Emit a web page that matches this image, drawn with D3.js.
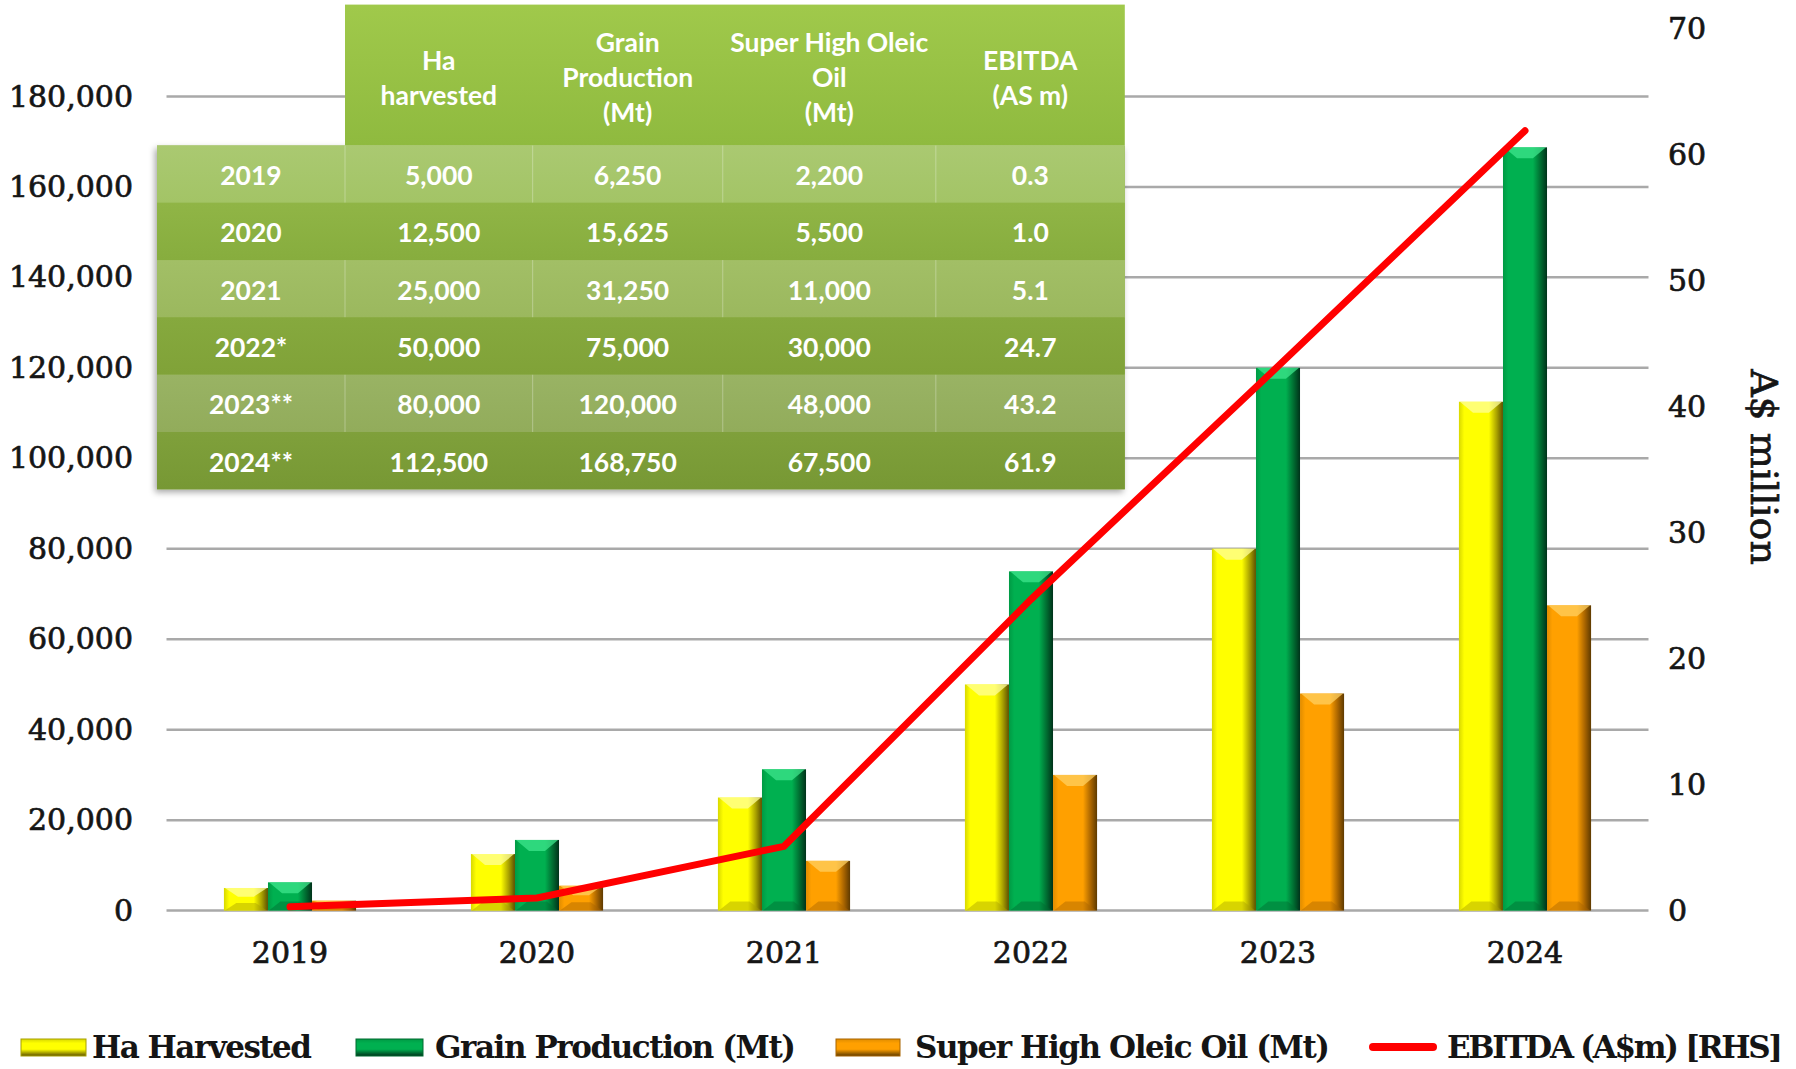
<!DOCTYPE html>
<html>
<head>
<meta charset="utf-8">
<script src="https://cdn.jsdelivr.net/npm/d3@7"></script>
<style>
  body { margin: 0; background: #fff; }
  svg { display: block; }
</style>
</head>
<body>
<div id="chart"></div>
<script>
// Chart data
var years = ["2019", "2020", "2021", "2022", "2023", "2024"];
var tableYears = ["2019", "2020", "2021", "2022*", "2023**", "2024**"];
var haHarvested = [5000, 12500, 25000, 50000, 80000, 112500];
var grainProduction = [6250, 15625, 31250, 75000, 120000, 168750];
var oilProduction = [2200, 5500, 11000, 30000, 48000, 67500];
var ebitda = [0.3, 1.0, 5.1, 24.7, 43.2, 61.9];

var leftTicks = [0, 20000, 40000, 60000, 80000, 100000, 120000, 140000, 160000, 180000];
var rightTicks = [0, 10, 20, 30, 40, 50, 60, 70];

var seriesNames = ["Ha Harvested", "Grain Production (Mt)", "Super High Oleic Oil (Mt)"];
var seriesValues = [haHarvested, grainProduction, oilProduction];
var lineName = "EBITDA (A$m) [RHS]";

var tableHeaders = [[], ["Ha", "harvested"], ["Grain", "Production", "(Mt)"], ["Super High Oleic", "Oil", "(Mt)"], ["EBITDA", "(AS m)"]];

// Layout
var W = 1796, H = 1069;
var PLOT_L = 166.5, PLOT_R = 1648.5, PLOT_T = 28.6, PLOT_B = 910.6;
var AXIS_FONT = "'DejaVu Serif', 'Liberation Serif', serif";
var TABLE_FONT = "Lato, 'Open Sans', sans-serif";

var seriesColors = [
	{main: "#ffff00", left: "#d8d800", edge: "#5c4f00", light: "#ffff9a", dark: "#a8a000"},
	{main: "#00b050", left: "#009a44", edge: "#00321a", light: "#3ee58c", dark: "#006a30"},
	{main: "#ffa000", left: "#e08c00", edge: "#5e3a00", light: "#ffd060", dark: "#a86400"}
];

var svg = d3.select("#chart").append("svg")
	.attr("width", W)
	.attr("height", H);

var defs = svg.append("defs");

// bar gradients (dark right edge, slightly dark left edge)
seriesColors.forEach(function(c, i) {
	var g = defs.append("linearGradient").attr("id", "barGrad" + i)
		.attr("x1", "0%").attr("x2", "100%").attr("y1", "0%").attr("y2", "0%");
	g.append("stop").attr("offset", "0%").attr("stop-color", c.left);
	g.append("stop").attr("offset", "12%").attr("stop-color", c.main);
	g.append("stop").attr("offset", "68%").attr("stop-color", c.main);
	g.append("stop").attr("offset", "86%").attr("stop-color", c.dark);
	g.append("stop").attr("offset", "100%").attr("stop-color", c.edge);

	var lg = defs.append("linearGradient").attr("id", "legGrad" + i)
		.attr("x1", "0%").attr("x2", "0%").attr("y1", "0%").attr("y2", "100%");
	lg.append("stop").attr("offset", "0%").attr("stop-color", c.left);
	lg.append("stop").attr("offset", "25%").attr("stop-color", c.main);
	lg.append("stop").attr("offset", "60%").attr("stop-color", c.main);
	lg.append("stop").attr("offset", "100%").attr("stop-color", c.edge);
});

var rowColors = [["#aac971", "#a3c466"], ["#90b546", "#87ad3e"], ["#a2bf66", "#9bb85e"],
	["#86a93e", "#80a238"], ["#99b364", "#92ac5b"], ["#7fa03b", "#779834"]];
rowColors.forEach(function(c, i) {
	var g = defs.append("linearGradient").attr("id", "rowGrad" + i)
		.attr("x1", "0%").attr("x2", "0%").attr("y1", "0%").attr("y2", "100%");
	g.append("stop").attr("offset", "0%").attr("stop-color", c[0]);
	g.append("stop").attr("offset", "100%").attr("stop-color", c[1]);
});
var hg = defs.append("linearGradient").attr("id", "headGrad")
	.attr("x1", "0%").attr("x2", "0%").attr("y1", "0%").attr("y2", "100%");
hg.append("stop").attr("offset", "0%").attr("stop-color", "#a0c94b");
hg.append("stop").attr("offset", "100%").attr("stop-color", "#8fba3f");

var shadow = defs.append("filter").attr("id", "tblShadow")
	.attr("x", "-5%").attr("y", "-5%").attr("width", "110%").attr("height", "115%");
shadow.append("feDropShadow").attr("dx", -2).attr("dy", 3).attr("stdDeviation", 3)
	.attr("flood-color", "#000").attr("flood-opacity", 0.35);

// Scales
var x0 = d3.scaleBand().domain(years).range([PLOT_L, PLOT_R]).padding(0);
var groupW = x0.bandwidth() * 0.535;
var x1 = d3.scaleBand().domain(d3.range(seriesNames.length)).range([0, groupW]).padding(0);
var yLeft = d3.scaleLinear().domain([0, 195000]).range([PLOT_B, PLOT_T]);
var yRight = d3.scaleLinear().domain([0, 70]).range([PLOT_B, PLOT_T]);

var xCenter = function(yr) { return x0(yr) + x0.bandwidth() / 2; };

// Gridlines
svg.append("g").selectAll("line")
	.data(leftTicks)
	.enter().append("line")
	.attr("x1", PLOT_L).attr("x2", PLOT_R)
	.attr("y1", function(d) { return yLeft(d); })
	.attr("y2", function(d) { return yLeft(d); })
	.attr("stroke", "#a9a9a9")
	.attr("stroke-width", 2.5);

// Left axis labels
var leftAxis = d3.axisLeft(yLeft).tickValues(leftTicks).tickFormat(d3.format(",")).tickSize(0).tickPadding(0);
var la = svg.append("g").attr("transform", "translate(133,0)").call(leftAxis);
la.select(".domain").remove();
la.selectAll("text")
	.attr("font-family", AXIS_FONT)
	.attr("font-size", 30)
	.attr("fill", "#151515")
	.attr("stroke", "#151515").attr("stroke-width", 0.7);

// Right axis labels
var rightAxis = d3.axisRight(yRight).tickValues(rightTicks).tickSize(0).tickPadding(0);
var ra = svg.append("g").attr("transform", "translate(1668,0)").call(rightAxis);
ra.select(".domain").remove();
ra.selectAll("text")
	.attr("font-family", AXIS_FONT)
	.attr("font-size", 30)
	.attr("fill", "#151515")
	.attr("stroke", "#151515").attr("stroke-width", 0.7);

svg.append("text")
	.attr("transform", "translate(1764,467) rotate(90)")
	.attr("text-anchor", "middle")
	.attr("dominant-baseline", "central")
	.attr("font-family", AXIS_FONT)
	.attr("font-size", 38)
	.attr("fill", "#151515")
	.attr("stroke", "#151515").attr("stroke-width", 0.7)
	.text("A$ million");

// X axis labels
var bottomAxis = d3.axisBottom(x0).tickSize(0).tickPadding(0);
var ba = svg.append("g").attr("transform", "translate(0,952)").call(bottomAxis);
ba.select(".domain").remove();
ba.selectAll("text")
	.attr("dy", "0.35em")
	.attr("font-family", AXIS_FONT)
	.attr("font-size", 30)
	.attr("fill", "#151515")
	.attr("stroke", "#151515").attr("stroke-width", 0.7);

// Bars
var barData = [];
years.forEach(function(yr, yi) {
	seriesValues.forEach(function(vals, si) {
		barData.push({year: yr, s: si, v: vals[yi]});
	});
});

var bars = svg.append("g").selectAll("g.bar")
	.data(barData)
	.enter().append("g").attr("class", "bar")
	.attr("transform", function(d) {
		return "translate(" + (xCenter(d.year) - groupW / 2 + x1(d.s)) + "," + yLeft(d.v) + ")";
	});

bars.append("rect")
	.attr("width", x1.bandwidth())
	.attr("height", function(d) { return yLeft(0) - yLeft(d.v); })
	.attr("fill", function(d) { return "url(#barGrad" + d.s + ")"; });

// top bevel highlight
bars.append("path")
	.attr("d", function(d) {
		var w = x1.bandwidth(), h = yLeft(0) - yLeft(d.v);
		var b = Math.min(11, h / 2.6);
		return "M1,0 L" + (w - 1) + ",0 L" + (w * 0.68) + "," + b + " L" + (w * 0.32) + "," + b + " Z";
	})
	.attr("fill", function(d) { return seriesColors[d.s].light; })
	.attr("opacity", 0.75);

// bottom bevel shade
bars.append("path")
	.attr("d", function(d) {
		var w = x1.bandwidth(), h = yLeft(0) - yLeft(d.v);
		var b = Math.min(9, h / 3);
		return "M1," + h + " L" + (w - 1) + "," + h + " L" + (w * 0.72) + "," + (h - b) + " L" + (w * 0.28) + "," + (h - b) + " Z";
	})
	.attr("fill", function(d) { return seriesColors[d.s].dark; })
	.attr("opacity", 0.45);

// EBITDA line
var line = d3.line()
	.x(function(d, i) { return xCenter(years[i]); })
	.y(function(d) { return yRight(d); });

svg.append("path")
	.datum(ebitda)
	.attr("d", line)
	.attr("fill", "none")
	.attr("stroke", "#ff0000")
	.attr("stroke-width", 7)
	.attr("stroke-linecap", "round")
	.attr("stroke-linejoin", "miter");

// Data table
var colEdges = [157, 345, 532.6, 722.7, 935.8, 1124.8];
var HEAD_T = 4.6, BODY_T = 145.5, ROW_H = 57.3;
var fmtInt = d3.format(",");
var fmtOne = d3.format(".1f");
var tableRows = tableYears.map(function(t, i) {
	return [t, fmtInt(haHarvested[i]), fmtInt(grainProduction[i]), fmtInt(oilProduction[i]), fmtOne(ebitda[i])];
});

var tbl = svg.append("g");

tbl.append("rect")
	.attr("x", colEdges[0]).attr("y", BODY_T)
	.attr("width", colEdges[5] - colEdges[0]).attr("height", ROW_H * tableRows.length)
	.attr("fill", "#8fb146")
	.attr("filter", "url(#tblShadow)");
tbl.append("rect")
	.attr("x", colEdges[1]).attr("y", HEAD_T)
	.attr("width", colEdges[5] - colEdges[1]).attr("height", BODY_T - HEAD_T)
	.attr("fill", "url(#headGrad)");

var rows = tbl.selectAll("g.row")
	.data(tableRows)
	.enter().append("g").attr("class", "row")
	.attr("transform", function(d, i) { return "translate(0," + (BODY_T + i * ROW_H) + ")"; });

rows.append("rect")
	.attr("x", colEdges[0]).attr("width", colEdges[5] - colEdges[0])
	.attr("height", ROW_H)
	.attr("fill", function(d, i) { return "url(#rowGrad" + i + ")"; });

// faint cell dividers on the lighter rows
rows.filter(function(d, i) { return i % 2 === 0; })
	.selectAll("line")
	.data([1, 2, 3, 4])
	.enter().append("line")
	.attr("x1", function(c) { return colEdges[c]; })
	.attr("x2", function(c) { return colEdges[c]; })
	.attr("y1", 0).attr("y2", ROW_H)
	.attr("stroke", "#ffffff").attr("stroke-opacity", 0.25).attr("stroke-width", 1.2);

rows.selectAll("text")
	.data(function(d) { return d; })
	.enter().append("text")
	.attr("x", function(d, c) { return (colEdges[c] + colEdges[c + 1]) / 2; })
	.attr("y", ROW_H / 2 + 1)
	.attr("text-anchor", "middle")
	.attr("dominant-baseline", "central")
	.attr("font-family", TABLE_FONT)
	.attr("font-weight", 700)
	.attr("font-size", 26.5)
	.attr("fill", "#ffffff")
	.text(function(d) { return d; });

var headCells = tbl.selectAll("g.head")
	.data(tableHeaders)
	.enter().append("g").attr("class", "head");

headCells.selectAll("text")
	.data(function(d, c) {
		return d.map(function(t, k) { return {t: t, c: c, k: k, n: d.length}; });
	})
	.enter().append("text")
	.attr("x", function(d) { return (colEdges[d.c] + colEdges[d.c + 1]) / 2; })
	.attr("y", function(d) { return (HEAD_T + BODY_T) / 2 + 2 + (d.k - (d.n - 1) / 2) * 35; })
	.attr("text-anchor", "middle")
	.attr("dominant-baseline", "central")
	.attr("font-family", TABLE_FONT)
	.attr("font-weight", 700)
	.attr("font-size", 26.5)
	.attr("fill", "#ffffff")
	.text(function(d) { return d.t; });

// Legend
var legendItems = [
	{name: seriesNames[0], s: 0, sx: 21, sw: 65, tx: 92, tw: 220},
	{name: seriesNames[1], s: 1, sx: 356, sw: 67, tx: 435, tw: 361},
	{name: seriesNames[2], s: 2, sx: 836, sw: 64, tx: 915, tw: 415},
	{name: lineName, s: -1, sx: 1369, sw: 68, tx: 1447, tw: 336}
];
var LEG_Y = 1047;

var leg = svg.append("g").selectAll("g")
	.data(legendItems)
	.enter().append("g");

leg.filter(function(d) { return d.s >= 0; })
	.append("rect")
	.attr("x", function(d) { return d.sx; })
	.attr("y", LEG_Y - 8)
	.attr("width", function(d) { return d.sw; })
	.attr("height", 17)
	.attr("fill", function(d) { return "url(#legGrad" + d.s + ")"; })
	.attr("stroke", function(d) { return seriesColors[d.s].dark; })
	.attr("stroke-width", 1);

leg.filter(function(d) { return d.s < 0; })
	.append("line")
	.attr("x1", function(d) { return d.sx + 4; })
	.attr("x2", function(d) { return d.sx + d.sw - 4; })
	.attr("y1", LEG_Y).attr("y2", LEG_Y)
	.attr("stroke", "#ff0000")
	.attr("stroke-width", 8)
	.attr("stroke-linecap", "round");

leg.append("text")
	.attr("x", function(d) { return d.tx; })
	.attr("y", LEG_Y)
	.attr("dominant-baseline", "central")
	.attr("textLength", function(d) { return d.tw; })
	.attr("lengthAdjust", "spacing")
	.attr("font-family", AXIS_FONT)
	.attr("font-weight", 700)
	.attr("font-size", 31)
	.attr("fill", "#151515")
	.text(function(d) { return d.name; });
</script>
</body>
</html>
